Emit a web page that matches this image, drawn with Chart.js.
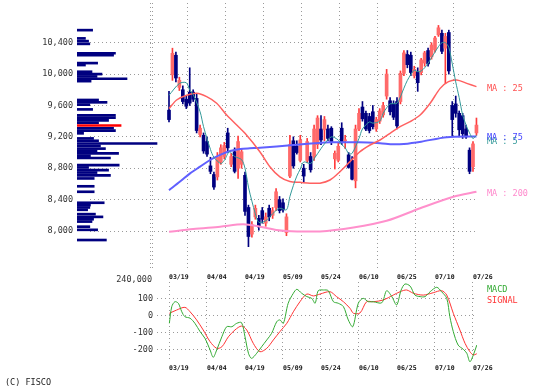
<!DOCTYPE html>
<html>
<head>
<meta charset="utf-8">
<script src="https://cdn.jsdelivr.net/npm/chart.js@4.4.1/dist/chart.umd.min.js"></script>
<style>
  body { margin: 0; background: #fff; }
  #wrap { position: relative; width: 552px; height: 391px; overflow: hidden;
          font-family: "DejaVu Sans Mono", monospace; font-size: 8.5px; }
  canvas { position: absolute; }
  .lbl { position: absolute; white-space: pre; line-height: 10px; }
</style>
</head>
<body>
<div id="wrap">
  <canvas id="price" width="552" height="272" style="left:0;top:0"></canvas>
  <canvas id="vol" width="172" height="290" style="left:0;top:0"></canvas>
  <canvas id="macd" width="552" height="106" style="left:0;top:270px"></canvas>
  <div class="lbl" style="left:487px;top:83px;color:#ff5050">MA : 25</div>
  <div class="lbl" style="left:487px;top:136px;color:#339999">MA : 5</div>
  <div class="lbl" style="left:487px;top:132px;color:#4444ff">MA : 75</div>
  <div class="lbl" style="left:487px;top:188px;color:#ff88cc">MA : 200</div>
  <div class="lbl" style="left:487px;top:284px;color:#33aa33">MACD</div>
  <div class="lbl" style="left:487px;top:295px;color:#ff3333">SIGNAL</div>
  <div class="lbl" style="left:5px;top:377px;color:#222">(C) FISCO</div>
</div>
<script>
// x axis: trading day index, a date label every 11 days
const dateLabels = ['03/19', '04/04', '04/19', '05/09', '05/24', '06/10', '06/25', '07/10', '07/26'];
const tickDays = [0, 11, 22, 33, 44, 55, 66, 77, 88];
const priceTicks = [8000, 8400, 8800, 9200, 9600, 10000, 10400];
const macdTicks = [-200, -100, 0, 100];

// daily candles
const open  = [9540, 9990, 10240, 9830, 9800, 9680, 9770, 9770, 9690, 9230,
               9220, 9140, 8830, 8720, 8690, 8880, 8950, 9250, 8850, 9010,
               8800, 8850, 8710, 8300, 7960, 8180, 8160, 8260, 8100, 8290,
               8200, 8300, 8400, 8360, 7980, 8700, 9150, 9080, 8900, 8800,
               8900, 8950, 8950, 9100, 9300, 9290, 9300, 9310, 8920, 8900,
               9310, 9150, 8970, 8900, 8640, 9300, 9580, 9500, 9460, 9520,
               9300, 9400, 9480, 9720, 9660, 9620, 9650, 9650, 10010, 10250,
               10240, 9980, 10030, 10020, 10140, 10300, 10220, 10310, 10500, 10520,
               10330, 10530, 9600, 9620, 9500, 9470, 9300, 9030, 8820, 9250];
const high  = [9780, 10330, 10280, 9960, 9850, 9720, 10080, 9800, 9750, 9350,
               9250, 9200, 8940, 8750, 9000, 9100, 9130, 9310, 8990, 9060,
               9210, 9050, 8750, 8330, 8120, 8330, 8200, 8300, 8230, 8330,
               8300, 8540, 8440, 8410, 8220, 9220, 9200, 9150, 9220, 8850,
               9180, 9000, 9350, 9470, 9470, 9460, 9350, 9330, 9020, 9120,
               9380, 9220, 9000, 8950, 9350, 9560, 9650, 9530, 9500, 9600,
               9450, 9560, 9640, 10060, 9700, 9660, 9700, 10040, 10300, 10300,
               10280, 10100, 10080, 10200, 10290, 10330, 10400, 10480, 10620, 10560,
               10520, 10560, 9650, 9720, 9530, 9500, 9350, 9060, 9140, 9440];
const low   = [9390, 9920, 9900, 9790, 9620, 9560, 9600, 9650, 9250, 9200,
               8990, 8950, 8730, 8530, 8650, 8850, 8920, 9000, 8820, 8740,
               8670, 8800, 8200, 7800, 7920, 8150, 8010, 8100, 8060, 8130,
               8160, 8260, 8230, 8240, 7940, 8680, 8800, 8980, 8880, 8620,
               8870, 8750, 8900, 9050, 9100, 9150, 9150, 9100, 8790, 8880,
               9100, 9050, 8800, 8650, 8550, 9280, 9400, 9280, 9250, 9300,
               9270, 9370, 9450, 9680, 9480, 9420, 9300, 9620, 9980, 10080,
               9980, 9950, 9780, 9990, 10100, 10100, 10190, 10280, 10480, 10260,
               9880, 10000, 9200, 9450, 9200, 9180, 9180, 8730, 8760, 9220];
const close = [9420, 10265, 9950, 9920, 9650, 9590, 9630, 9680, 9280, 9310,
               9020, 8980, 8760, 8560, 8940, 9060, 9090, 9060, 8950, 8760,
               9140, 9010, 8250, 7930, 8080, 8290, 8050, 8150, 8180, 8180,
               8260, 8500, 8260, 8270, 8180, 9100, 8830, 9000, 9160, 8700,
               9140, 8780, 9300, 9440, 9160, 9420, 9180, 9140, 8990, 9080,
               9140, 9160, 8810, 8660, 9300, 9500, 9430, 9300, 9280, 9330,
               9420, 9530, 9600, 10000, 9520, 9450, 9340, 10010, 10270, 10120,
               10020, 10060, 9890, 10180, 10270, 10130, 10370, 10460, 10590, 10290,
               10480, 10040, 9420, 9500, 9290, 9240, 9200, 8760, 9110, 9350];

// moving averages (day index, value)
const ma5Days = [0, 3, 5, 6, 7, 9, 10, 12, 13, 15, 16, 17.5, 19, 21, 22, 23, 24, 25, 26, 28,
                 30, 32, 34, 35, 36, 37, 38, 39, 41, 42, 44, 45, 47, 49, 50, 51, 52, 53, 55, 56,
                 58, 59, 61, 62, 63, 64, 66, 68, 69, 71, 72, 73, 74, 75, 76, 77, 78, 79, 80, 81,
                 82, 83, 84, 85, 86, 87, 88, 89];
const ma5 = [9730, 9880, 9890, 9800, 9740, 9520, 9330, 9040, 8940, 8860, 8900, 9010, 8950, 8910, 8800, 8560, 8380, 8220, 8110, 8130,
             8220, 8290, 8270, 8440, 8580, 8700, 8790, 8880, 8860, 8920, 9050, 9110, 9200, 9160, 9100, 9060, 8990, 8990, 9180, 9300,
             9390, 9375, 9400, 9500, 9570, 9620, 9630, 9820, 9920, 10050, 10030, 10040, 10080, 10140, 10210, 10280, 10350, 10400, 10400, 10340,
             10130, 9900, 9700, 9480, 9350, 9250, 9180, 9220];
const ma25Days = [0, 2.2, 5.1, 8, 10.9, 13.8, 16.7, 19.6, 22, 26.3, 29.2, 32.1, 35, 37.9, 40.8, 43.7,
                  46.6, 49.5, 52.4, 55.3, 58.2, 61.1, 64, 66.9, 69.8, 72.7, 75.6, 78.5, 80.9, 83.3, 86.2, 89];
const ma25 = [9560, 9670, 9730, 9755, 9712, 9628, 9478, 9351, 9245, 9011, 8820, 8690, 8630, 8620, 8610, 8610,
              8650, 8756, 8884, 9011, 9096, 9160, 9245, 9330, 9393, 9478, 9628, 9818, 9903, 9925, 9882, 9840];
const ma75Days = [0, 3.2, 6.1, 9, 11.9, 14.8, 17.7, 20.6, 23.4, 26.3, 36, 46.6, 55, 61.1, 65, 68, 73, 80.4, 89];
const ma75 = [8520, 8630, 8735, 8820, 8905, 8970, 9020, 9045, 9054, 9060, 9096, 9130, 9130, 9118, 9105, 9110, 9139, 9195, 9205];
const ma200Days = [0, 7, 14.8, 21.5, 26.3, 31.1, 34, 43.7, 53.4, 63, 72.7, 82.3, 89];
const ma200 = [7990, 8025, 8055, 8085, 8055, 8012, 8000, 7995, 8045, 8130, 8290, 8437, 8500];

// volume by price
const volPrices = [10560, 10455, 10420, 10385, 10265, 10240, 10140, 10115, 10030, 10000,
                   9970, 9940, 9910, 9670, 9640, 9610, 9550, 9475, 9445, 9410,
                   9380, 9345, 9310, 9280, 9245, 9180, 9150, 9115, 9085, 9050,
                   9020, 8990, 8960, 8930, 8840, 8810, 8775, 8745, 8710, 8670,
                   8570, 8500, 8360, 8330, 8300, 8270, 8215, 8180, 8150, 8120,
                   8055, 8015, 7885];
const volAmounts = [50000, 27000, 37000, 41000, 123000, 117000, 66000, 27000, 48000, 80000,
                    64000, 160000, 45000, 69000, 96000, 41000, 50000, 123000, 123000, 101000,
                    69000, 141000, 117000, 123000, 21000, 53000, 69000, 256000, 75000, 91000,
                    64000, 133000, 43000, 107000, 135000, 37000, 101000, 64000, 107000, 55000,
                    55000, 55000, 87000, 43000, 41000, 34000, 59000, 83000, 53000, 48000,
                    41000, 66000, 94000];
const lastPrice = 9345;
const volTicks = [240000];

// MACD panel
const macdDays = [0.1, 0.8, 1.7, 2.7, 3.7, 4.6, 6.1, 7.5, 9.0, 10.4, 11.9, 12.8, 13.8, 15.3, 16.7, 18.2, 19.6, 21.0, 22.0, 23.0,
                  23.9, 25.4, 26.8, 28.3, 29.7, 31.2, 32.1, 33.1, 34.5, 36.0, 37.0, 38.4, 39.9, 41.3, 42.3, 43.2, 44.7, 46.1, 47.6, 49.0,
                  50.5, 51.9, 53.2, 54.8, 56.2, 57.7, 59.1, 61.6, 63.0, 64.5, 65.9, 67.2, 68.3, 69.8, 71.2, 72.7, 74.1, 75.6, 77.5, 78.9,
                  80.4, 81.3, 82.3, 83.7, 85.2, 86.2, 87.1, 88.1, 89.1];
const macdVals = [-46, 52, 81, 72, 22, -7, -16, -46, -95, -134, -203, -246, -203, -125, -66, -66, -46, -42, -125, -222,
                  -252, -222, -184, -144, -105, -36, -26, -46, 72, 131, 154, 131, 111, 101, 72, 146, 150, 146, 81, 72,
                  52, -26, -66, 72, 101, 81, 81, 75, 146, 111, 62, 150, 185, 173, 120, 111, 111, 140, 166, 140,
                  101, -7, -95, -174, -199, -222, -272, -232, -174];
const signalDays = [0.1, 2.2, 4.6, 6.1, 8.0, 9.9, 11.9, 13.8, 15.3, 17.2, 19.1, 21.0, 22.5, 24.4, 26.3, 28.3,
                    30.2, 32.1, 34.1, 36.0, 37.9, 39.9, 41.8, 43.7, 46.6, 48.5, 50.5, 52.4, 53.4, 55.3, 57.2, 59.1,
                    62.0, 64.9, 66.9, 68.8, 70.7, 73.6, 76.5, 78.9, 80.4, 82.3, 84.2, 85.7, 87.1, 88.1, 89.1];
const signalVals = [13, 32, 48, 22, -26, -85, -154, -193, -184, -125, -85, -62, -85, -164, -213, -193,
                    -144, -95, -46, 22, 81, 126, 115, 126, 140, 111, 81, 42, 13, 15, 81, 81,
                    91, 120, 140, 150, 131, 120, 134, 146, 120, 13, -85, -164, -213, -232, -225];

// layout helpers: day index 0 sits at x=169, 3.4545 px per day
const DAY0_X = 169, PX_PER_DAY = 3.4545;
const dayAt = px => (px - DAY0_X) / PX_PER_DAY;
const PRICE_MIN = 7503, PRICE_MAX = 10906;

const smallFont = { family: 'DejaVu Sans Mono', size: 8.5 };
const dateFont = { family: 'DejaVu Sans Mono', size: 6.5, weight: 'bold' };
const gridColor = '#9a9a9a';
const dots = [1, 3];

const UP = '#ff6a6a', UP_EDGE = '#ff3c3c', DOWN = '#000080';
const days = open.map((v, i) => i);
const isUp = i => close[i] >= open[i];

const pts = (xs, ys) => xs.map((x, k) => ({ x: x, y: ys[k] }));
const line = (xs, ys, color, width) => ({
  type: 'line', data: pts(xs, ys), borderColor: color, borderWidth: width,
  pointRadius: 0, tension: 0.3, order: 0
});
const dayTicks = s => { s.ticks = tickDays.map(v => ({ value: v })); };
const dayLabel = v => dateLabels[tickDays.indexOf(v)];
// fixed axis sizes, and no extra padding pushed onto the chart area
const fixHeight = h => s => { s.height = h; s.paddingLeft = 0; s.paddingRight = 0; };
const fixWidth = w => s => { s.width = w; s.paddingTop = 0; s.paddingBottom = 0; };

Chart.defaults.animation = false;
Chart.defaults.plugins.legend.display = false;
Chart.defaults.plugins.tooltip.enabled = false;

// price panel
new Chart(document.getElementById('price'), {
  type: 'bar',
  data: {
    datasets: [
      line(ma5Days, ma5, '#339999', 1),
      line(ma25Days, ma25, '#ff6060', 1.5),
      line(ma75Days, ma75, '#6060ff', 2),
      line(ma200Days, ma200, '#ff90cc', 2),
      {
        data: days.map(i => ({ x: i, y: [open[i], close[i]] })),
        backgroundColor: days.map(i => isUp(i) ? UP : DOWN),
        borderWidth: 0, barThickness: 3, minBarLength: 1, grouped: false, order: 1, clip: false
      },
      {
        data: days.map(i => ({ x: i, y: [low[i], high[i]] })),
        backgroundColor: days.map(i => isUp(i) ? UP_EDGE : DOWN),
        barThickness: 1, grouped: false, order: 2, clip: false
      }
    ]
  },
  options: {
    responsive: false,
    layout: { padding: { top: 3, bottom: 2, left: 0, right: 75 } },
    scales: {
      x: {
        type: 'linear', min: dayAt(90), max: dayAt(477), offset: false,
        afterBuildTicks: dayTicks,
        afterFit: fixHeight(0),
        ticks: { display: false },
        grid: { color: gridColor, drawTicks: false },
        border: { display: false, dash: dots }
      },
      y: {
        min: PRICE_MIN, max: PRICE_MAX,
        afterBuildTicks: s => { s.ticks = priceTicks.map(v => ({ value: v })); },
        afterFit: fixWidth(90),
        ticks: { callback: v => v.toLocaleString('en-US'), padding: 17, color: '#333', font: smallFont },
        grid: { color: gridColor, drawTicks: false },
        border: { display: false, dash: dots }
      }
    }
  }
});

// volume-by-price bars on the left
new Chart(document.getElementById('vol'), {
  type: 'bar',
  data: {
    datasets: [{
      data: volPrices.map((p, k) => ({ x: volAmounts[k], y: p })),
      backgroundColor: volPrices.map(p => p === lastPrice ? '#ff0000' : DOWN),
      barThickness: 2, grouped: false
    }]
  },
  options: {
    indexAxis: 'y',
    responsive: false,
    layout: { padding: { top: 3, left: 77, right: 0, bottom: 0 } },
    scales: {
      y: { type: 'linear', display: false, offset: false, min: PRICE_MIN, max: PRICE_MAX },
      x: {
        type: 'linear', min: 0, max: 304000,
        afterBuildTicks: s => { s.ticks = volTicks.map(v => ({ value: v })); },
        afterFit: fixHeight(20),
        ticks: { align: 'end', padding: 5, color: '#333', font: smallFont,
                 callback: v => v.toLocaleString('en-US') },
        grid: { color: gridColor, drawTicks: false },
        border: { display: false, dash: dots }
      }
    }
  }
});

// MACD panel
new Chart(document.getElementById('macd'), {
  type: 'line',
  data: {
    datasets: [
      { data: pts(macdDays, macdVals), borderColor: '#33aa33', borderWidth: 1, pointRadius: 0, tension: 0.3 },
      { data: pts(signalDays, signalVals), borderColor: '#ff3333', borderWidth: 1, pointRadius: 0, tension: 0.3 }
    ]
  },
  options: {
    responsive: false,
    layout: { padding: { top: 0, bottom: 0, left: 0, right: 75 } },
    scales: {
      x: {
        type: 'linear', position: 'bottom', min: dayAt(157), max: dayAt(477),
        afterBuildTicks: dayTicks,
        afterFit: fixHeight(14),
        ticks: { align: 'start', padding: 2, autoSkip: false, maxRotation: 0, color: '#111', font: dateFont, callback: dayLabel },
        grid: { color: gridColor, drawTicks: false },
        border: { display: false, dash: dots }
      },
      xTop: {
        type: 'linear', position: 'top', min: dayAt(157), max: dayAt(477),
        afterBuildTicks: dayTicks,
        afterFit: fixHeight(12),
        ticks: { align: 'start', padding: 1, autoSkip: false, maxRotation: 0, color: '#111', font: dateFont, callback: dayLabel },
        grid: { display: false, drawTicks: false },
        border: { display: false }
      },
      y: {
        min: -273.5, max: 197,
        afterBuildTicks: s => { s.ticks = macdTicks.map(v => ({ value: v })); },
        afterFit: fixWidth(157),
        ticks: { padding: 4, color: '#333', font: smallFont },
        grid: { color: gridColor, drawTicks: false },
        border: { display: false, dash: dots }
      }
    }
  }
});
</script>
</body>
</html>
